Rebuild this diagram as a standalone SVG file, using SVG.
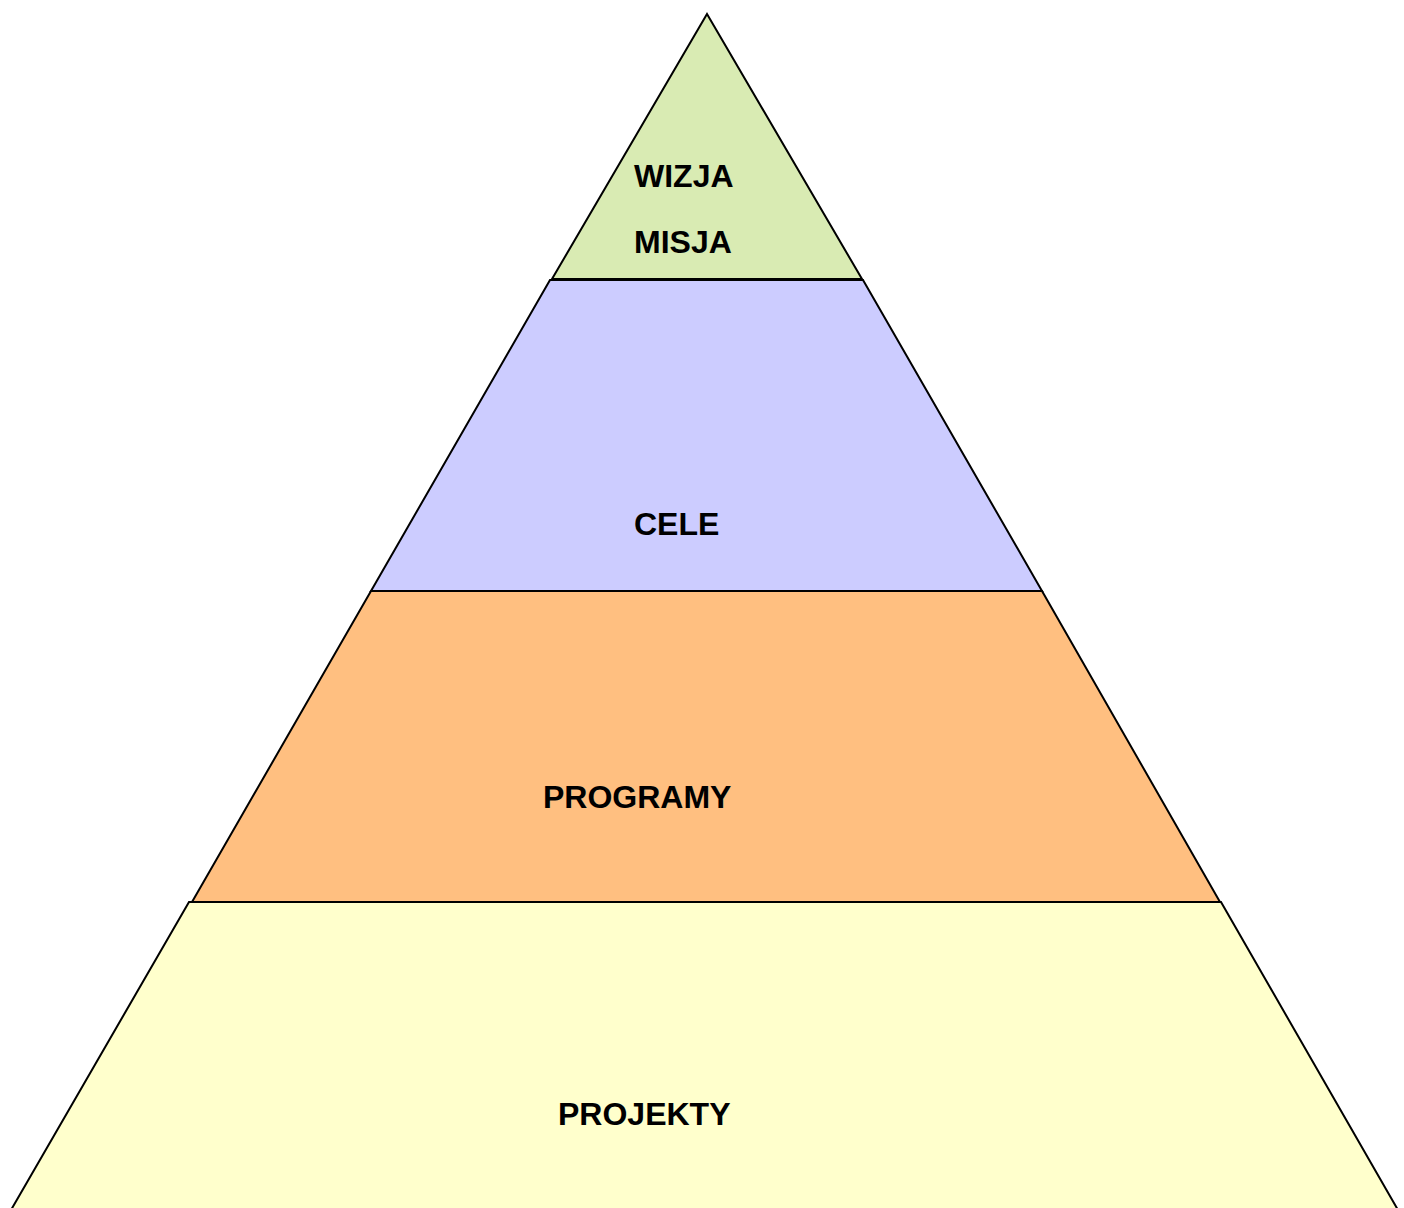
<svg xmlns="http://www.w3.org/2000/svg" width="1404" height="1208" viewBox="0 0 1404 1208">
<style>
.layer{stroke:#000;stroke-width:2;stroke-linejoin:miter}
.lbl{font-family:"Liberation Sans",Arial,sans-serif;font-weight:bold;font-size:32px;fill:#000}
</style>
<rect width="1404" height="1208" fill="#fff"/>
<g id="projekty">
<polygon class="layer" points="189,902 1221,902 1398,1210 11,1210" fill="#ffffcc"/>
<text class="lbl" x="558" y="1125">PROJEKTY</text>
</g>
<g id="programy">
<polygon class="layer" points="371,591 1042,591 1220,902 192,902" fill="#ffbf80"/>
<text class="lbl" x="543" y="808">PROGRAMY</text>
</g>
<g id="cele">
<polygon class="layer" points="550,280 863,280 1042,591 371,591" fill="#ccccff"/>
<text class="lbl" x="634" y="535">CELE</text>
</g>
<g id="wizja">
<polygon class="layer" points="707,14 862,279 552,279" fill="#d9ebb3"/>
<text class="lbl" x="634" y="187">WIZJA</text>
<text class="lbl" x="634" y="253">MISJA</text>
</g>
<g id="connectors"></g>
</svg>
